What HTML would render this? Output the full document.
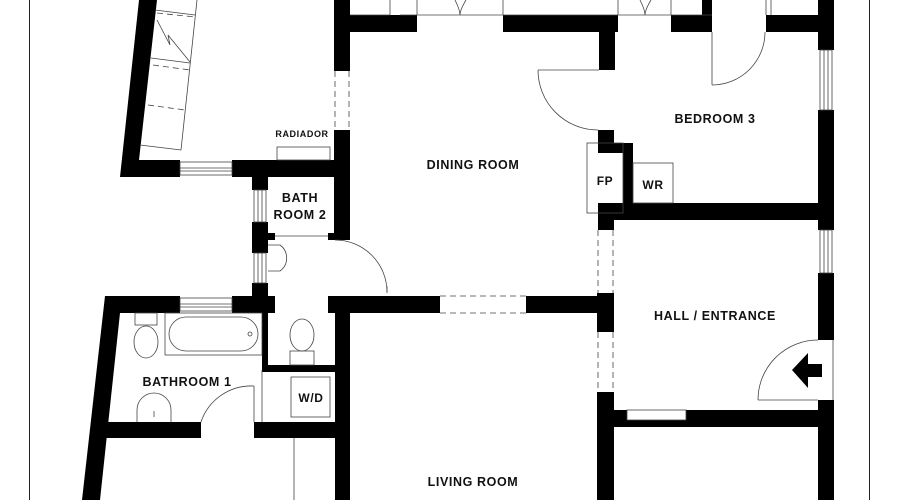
<!DOCTYPE html>
<html><head><meta charset="utf-8"><style>
html,body{margin:0;padding:0;background:#fff;width:900px;height:500px;overflow:hidden}
text{font-family:"Liberation Sans",sans-serif;font-weight:bold;fill:#111;letter-spacing:0.6px}
</style></head><body>
<svg width="900" height="500" viewBox="0 0 900 500" xmlns="http://www.w3.org/2000/svg">
<g stroke="#222" stroke-width="1" fill="none">
<line x1="29.5" y1="0" x2="29.5" y2="500"/>
<line x1="869.5" y1="0" x2="869.5" y2="500"/>
</g>
<g fill="#000">
<polygon points="139,0 157,0 139,160 180,160 180,177 120,177"/>
<rect x="232" y="160" width="118" height="17"/>
<rect x="334" y="0" width="16" height="71"/>
<rect x="334" y="130" width="16" height="110"/>
<rect x="350" y="15" width="67" height="17"/>
<rect x="503" y="15" width="115" height="17"/>
<rect x="599" y="32" width="16" height="38"/>
<rect x="671" y="15" width="41" height="17"/>
<rect x="702" y="0" width="10" height="15"/>
<rect x="766" y="15" width="52" height="17"/>
<rect x="818" y="0" width="16" height="50"/>
<rect x="818" y="110" width="16" height="120"/>
<rect x="818" y="273" width="16" height="67"/>
<rect x="818" y="400" width="16" height="100"/>
<rect x="598" y="130" width="16" height="23"/>
<rect x="598" y="143" width="35" height="10"/>
<rect x="623" y="143" width="10" height="70"/>
<rect x="598" y="203" width="236" height="17"/>
<rect x="598" y="203" width="16" height="27"/>
<rect x="597" y="293" width="17" height="39"/>
<rect x="526" y="296" width="80" height="17"/>
<rect x="597" y="392" width="17" height="108"/>
<rect x="614" y="410" width="220" height="17"/>
<rect x="252" y="160" width="16" height="30"/>
<rect x="252" y="222" width="16" height="31"/>
<rect x="252" y="283" width="16" height="30"/>
<rect x="252" y="233" width="23" height="7"/>
<rect x="328" y="233" width="22" height="7"/>
<polygon points="105,296 180,296 180,313 120,313 100,500 82,500"/>
<rect x="232" y="296" width="43" height="17"/>
<rect x="328" y="296" width="112" height="17"/>
<rect x="335" y="296" width="15" height="204"/>
<rect x="262" y="313" width="6" height="57"/>
<rect x="262" y="365" width="73" height="7"/>
<rect x="102" y="422" width="99" height="16"/>
<rect x="254" y="422" width="81" height="16"/>
<polygon points="792,370 808,353 808,364 822,364 822,377 808,377 808,388"/>
</g>
<g stroke="#444" stroke-width="0.8" fill="none">
<rect x="180" y="162" width="52" height="13"/><line x1="180" y1="168" x2="232" y2="168"/><line x1="180" y1="171" x2="232" y2="171"/>
<rect x="180" y="298" width="52" height="13"/><line x1="180" y1="304" x2="232" y2="304"/><line x1="180" y1="307" x2="232" y2="307"/>
<rect x="254" y="190" width="12" height="32"/><line x1="258" y1="190" x2="258" y2="222"/><line x1="262" y1="190" x2="262" y2="222"/>
<rect x="254" y="253" width="12" height="30"/><line x1="258" y1="253" x2="258" y2="283"/><line x1="262" y1="253" x2="262" y2="283"/>
<rect x="820" y="50" width="12" height="60"/><line x1="824" y1="50" x2="824" y2="110"/><line x1="828" y1="50" x2="828" y2="110"/>
<rect x="820" y="230" width="12" height="43"/><line x1="824" y1="230" x2="824" y2="273"/><line x1="828" y1="230" x2="828" y2="273"/>
<line x1="350" y1="15" x2="390" y2="15"/><line x1="390" y1="0" x2="390" y2="15"/>
<line x1="400" y1="15" x2="712" y2="15"/>
<line x1="417" y1="0" x2="417" y2="15"/><line x1="503" y1="0" x2="503" y2="15"/>
<line x1="618" y1="0" x2="618" y2="15"/><line x1="671" y1="0" x2="671" y2="15"/>
<path d="M455,0 Q460,10 460,15 Q460,10 466,0"/><path d="M640,0 Q645,10 645,15 Q645,10 651,0"/>
<line x1="766" y1="15" x2="766" y2="0"/><line x1="771" y1="15" x2="771" y2="0"/>
<line x1="712" y1="32" x2="712" y2="85"/><path d="M712,85 A53,53 0 0 0 765,32"/>
<line x1="538" y1="70" x2="599" y2="70"/><path d="M538,70 A60,60 0 0 0 598,130"/>
<line x1="758" y1="400" x2="818" y2="400"/><path d="M758,400 A60,60 0 0 1 818,340"/><line x1="833" y1="340" x2="833" y2="400"/>
<path d="M335,240 A52,52 0 0 1 387,292"/><line x1="387" y1="286" x2="387" y2="293"/>
<line x1="254" y1="386" x2="254" y2="422"/><path d="M254,386 A53,53 0 0 0 201,422"/>
<line x1="275" y1="236" x2="328" y2="236"/>
<g stroke-dasharray="6,4">
<line x1="335" y1="71" x2="335" y2="130"/><line x1="349" y1="71" x2="349" y2="130"/>
<line x1="440" y1="296" x2="526" y2="296"/><line x1="440" y1="313" x2="526" y2="313"/>
<line x1="598" y1="230" x2="598" y2="293"/><line x1="613" y1="230" x2="613" y2="293"/>
<line x1="598" y1="332" x2="598" y2="392"/><line x1="613" y1="332" x2="613" y2="392"/>
<line x1="157" y1="13" x2="195" y2="17"/><line x1="153" y1="65" x2="190" y2="70"/><line x1="148" y1="105" x2="185" y2="110"/>
</g>
<line x1="197" y1="0" x2="181" y2="150"/><line x1="140" y1="145" x2="181" y2="150"/>
<line x1="155" y1="10" x2="195" y2="15"/><line x1="151" y1="58" x2="190" y2="63"/>
<polyline points="157,20 170,45 168,35 190,62"/>
<rect x="277" y="147" width="53" height="13"/>
<rect x="587" y="143" width="36" height="70"/>
<rect x="633" y="163" width="40" height="40"/>
<rect x="165" y="313" width="97" height="42"/><rect x="169" y="317" width="89" height="34" rx="17"/><circle cx="250" cy="334" r="2"/>
<rect x="135" y="313" width="22" height="12"/><ellipse cx="146" cy="342" rx="12" ry="16"/>
<path d="M137,422 L137,410 A13,13 0 0 1 171,410 L171,422"/><line x1="154" y1="411" x2="154" y2="417"/>
<path d="M268,271 L280,271 A16,16 0 0 0 280,245 L268,245"/>
<ellipse cx="302" cy="335" rx="12" ry="16"/><rect x="290" y="351" width="24" height="14"/>
<rect x="291" y="377" width="39" height="40"/>
<line x1="262" y1="370" x2="262" y2="422"/>
<line x1="294" y1="438" x2="294" y2="500"/>
<rect x="627" y="410" width="59" height="10" fill="#fff"/>
</g>
<text x="302" y="137" font-size="9" text-anchor="middle">RADIADOR</text>
<text x="473" y="169" font-size="12.5" text-anchor="middle">DINING ROOM</text>
<text x="715" y="123" font-size="12.5" text-anchor="middle">BEDROOM 3</text>
<text x="605" y="185" font-size="12" text-anchor="middle">FP</text>
<text x="653" y="189" font-size="12" text-anchor="middle">WR</text>
<text x="300" y="202" font-size="12.5" text-anchor="middle">BATH</text>
<text x="300" y="219" font-size="12.5" text-anchor="middle">ROOM 2</text>
<text x="187" y="386" font-size="12.5" text-anchor="middle">BATHROOM 1</text>
<text x="311" y="402" font-size="12" text-anchor="middle">W/D</text>
<text x="715" y="320" font-size="12.5" text-anchor="middle">HALL / ENTRANCE</text>
<text x="473" y="486" font-size="12.5" text-anchor="middle">LIVING ROOM</text>
</svg>
</body></html>
